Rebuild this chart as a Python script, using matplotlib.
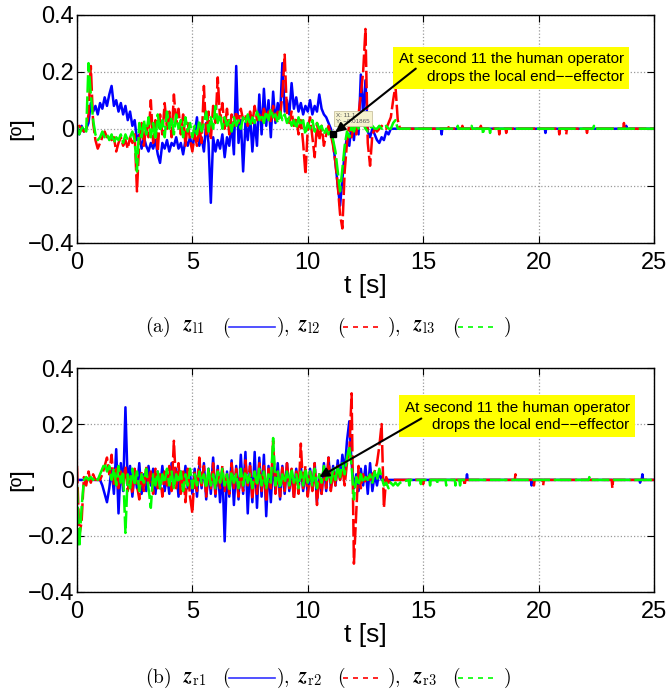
import numpy as np
import matplotlib
matplotlib.use("Agg")
import matplotlib.pyplot as plt
from matplotlib.lines import Line2D

plt.rcParams['font.family'] = ['Liberation Sans', 'DejaVu Sans']
plt.rcParams['mathtext.fontset'] = 'cm'

t_step = 0.1

z_l1 = [0.0, -0.02, 0.01, -0.01, 0.0, 0.02, 0.09, 0.06, 0.08, 0.05,
        0.09, 0.07, 0.11, 0.08, 0.12, 0.15, 0.08, 0.10, 0.06, 0.09,
        0.05, 0.08, 0.03, 0.06, 0.01, 0.03, -0.04, -0.02, -0.07, -0.03,
        -0.06, -0.08, -0.05, -0.07, -0.04, -0.09, -0.12, -0.05, -0.07, -0.04,
        -0.08, -0.05, -0.06, -0.03, -0.07, -0.05, -0.09, -0.04, -0.06, -0.03,
        -0.07, -0.02, 0.04, -0.06, -0.03, -0.08, 0.02, -0.05, -0.26, -0.03,
        -0.08, -0.04, -0.07, -0.02, -0.10, -0.03, -0.06, 0.02, -0.09, 0.22,
        -0.05, 0.03, -0.15, 0.02, -0.04, 0.05, -0.08, 0.03, -0.06, 0.12,
        -0.02, 0.14, 0.01, 0.10, -0.03, 0.13, 0.02, 0.09, 0.04, 0.23,
        0.06, 0.10, 0.05, 0.16, 0.07, 0.11, 0.06, 0.09, 0.05, 0.08,
        0.06, 0.10, 0.05, 0.08, 0.06, 0.12, 0.07, 0.05, 0.04, 0.02,
        0.0, -0.05, -0.12, -0.20, -0.27, -0.18, -0.08, -0.03, -0.06, 0.02,
        -0.04, 0.05, -0.02, 0.19, 0.05, 0.17, -0.01, -0.03, 0.0, -0.02,
        -0.04, -0.05, -0.03, -0.04, -0.01, -0.02, 0.0, 0.0, 0.0, 0.0, 0.0]
z_l2 = [0.0, 0.01, 0.0, -0.01, 0.0, 0.05, 0.22, 0.02, -0.04, -0.07,
        -0.05, -0.03, -0.01, -0.03, -0.02, -0.04, -0.03, -0.08, -0.05, -0.03,
        -0.06, -0.04, -0.07, -0.03, -0.05, -0.02, -0.22, -0.04, 0.02, -0.06,
        0.01, -0.03, 0.10, -0.05, 0.03, -0.08, 0.05, -0.02, 0.09, 0.0,
        0.06, -0.03, 0.12, 0.02, 0.07, -0.02, 0.05, -0.06, 0.02, -0.04,
        -0.08, -0.02, -0.06, 0.01, -0.05, 0.15, -0.02, 0.06, -0.04, 0.08,
        0.02, 0.18, 0.03, 0.09, 0.0, 0.07, -0.02, 0.05, 0.01, 0.06,
        0.02, 0.07, 0.03, 0.05, 0.01, 0.06, 0.02, 0.08, 0.03, 0.05,
        0.02, 0.07, 0.04, 0.06, 0.02, 0.08, 0.03, 0.06, 0.04, 0.12,
        0.26, 0.05, 0.02, 0.06, 0.01, 0.04, -0.02, 0.03, -0.05, -0.16,
        0.0, 0.04, -0.03, -0.10, 0.02, -0.04, 0.01, -0.06, -0.02, 0.01,
        -0.02, -0.06, -0.12, -0.20, -0.30, -0.35, -0.15, -0.05, 0.02, -0.03,
        0.01, -0.02, 0.05, 0.12, 0.20, 0.35, -0.05, -0.13, -0.02, 0.0,
        -0.01, 0.0, 0.01, 0.0, 0.0, 0.02, 0.04, 0.10, 0.15, 0.03, 0.0]
z_l3 = [0.01, -0.02, 0.0, 0.01, -0.01, 0.23, 0.12, 0.03, -0.02, -0.04,
        -0.03, -0.01, -0.03, -0.02, -0.04, -0.02, -0.05, -0.03, -0.04, -0.02,
        -0.05, -0.02, -0.04, -0.03, -0.01, -0.04, -0.15, 0.02, -0.03, 0.03,
        -0.02, 0.04, -0.03, 0.02, -0.04, 0.05, -0.01, 0.03, -0.03, 0.06,
        0.0, 0.04, -0.02, 0.05, 0.0, 0.03, -0.03, 0.04, -0.01, 0.02,
        -0.03, 0.01, -0.02, 0.03, -0.01, 0.02, 0.06, -0.01, 0.04, 0.0,
        0.08, 0.02, 0.05, 0.0, 0.04, 0.01, 0.03, -0.01, 0.04, 0.01,
        0.03, 0.0, 0.04, 0.02, 0.05, 0.01, 0.04, 0.02, 0.06, 0.03,
        0.05, 0.02, 0.06, 0.03, 0.07, 0.04, 0.05, 0.02, 0.06, 0.03,
        0.05, 0.02, 0.04, 0.01, 0.03, 0.0, 0.04, 0.01, 0.03, -0.02,
        0.02, 0.0, 0.03, -0.01, 0.02, 0.0, 0.01, -0.02, 0.0, -0.02,
        -0.01, -0.04, -0.08, -0.15, -0.22, -0.14, -0.06, -0.01, -0.03, 0.01,
        -0.01, 0.02, 0.0, 0.05, 0.02, 0.0, -0.01, 0.0, 0.01, 0.0,
        0.0, 0.01, 0.0, 0.0, 0.01, 0.0, 0.0, 0.02, 0.03, 0.0, 0.0]

z_r1 = [0.0, 0.0, 0.0, 0.0, 0.0, 0.0, 0.0, 0.0, 0.0, 0.0,
        0.0, -0.02, -0.05, -0.08, -0.03, 0.04, -0.05, 0.11, -0.12, 0.06,
        -0.04, 0.26, -0.02, 0.05, -0.06, 0.03, -0.03, 0.06, -0.05, 0.02,
        -0.04, 0.05, -0.02, 0.04, -0.05, 0.03, -0.03, 0.05, -0.04, 0.02,
        -0.05, 0.06, -0.02, 0.04, -0.06, 0.03, -0.04, 0.05, -0.03, 0.02,
        -0.05, 0.04, -0.06, 0.05, -0.03, 0.06, -0.07, 0.04, -0.05, 0.08,
        -0.06, 0.05, -0.08, 0.04, -0.22, 0.03, -0.06, 0.07, -0.09, 0.05,
        -0.07, 0.09, -0.05, 0.10, -0.12, 0.06, -0.08, 0.10, -0.10, 0.08,
        -0.06, 0.09, -0.13, 0.05, -0.08, 0.07, -0.04, 0.06, -0.07, 0.05,
        -0.05, 0.06, -0.04, 0.03, -0.06, 0.04, -0.03, 0.05, -0.04, 0.03,
        -0.05, 0.04, -0.03, 0.06, -0.08, 0.02, -0.05, 0.06, -0.04, 0.08,
        -0.03, 0.05, -0.02, 0.07, 0.0, 0.09, 0.03, 0.14, 0.21, 0.06,
        -0.03, 0.02, -0.04, 0.04, -0.02, 0.05, -0.05, 0.06, -0.04, 0.02,
        -0.02, 0.03, 0.0, 0.0, 0.0, 0.0, 0.0, 0.0, 0.0, 0.0, 0.0]
z_r2 = [0.05, -0.20, -0.15, 0.01, -0.02, 0.03, -0.01, 0.02, 0.0, 0.0,
        0.0, 0.02, 0.05, 0.08, 0.02, 0.09, -0.02, 0.04, -0.03, 0.03,
        -0.02, 0.05, -0.04, 0.02, -0.05, 0.04, -0.02, -0.07, 0.03, -0.04,
        0.05, -0.02, 0.03, -0.05, 0.04, -0.03, 0.02, -0.06, 0.03, -0.02,
        0.05, -0.04, 0.14, -0.03, 0.06, -0.05, 0.03, -0.08, 0.04, -0.06,
        -0.12, 0.03, -0.04, 0.08, -0.02, 0.05, -0.06, 0.03, -0.03, 0.06,
        -0.05, 0.04, -0.03, 0.05, -0.04, 0.02, -0.05, 0.06, -0.03, 0.04,
        -0.06, 0.03, -0.04, 0.07, -0.02, 0.05, -0.07, 0.03, -0.05, 0.06,
        -0.04, 0.05, -0.08, 0.04, -0.03, 0.14, -0.05, 0.03, -0.06, 0.05,
        -0.04, 0.06, -0.03, 0.04, -0.07, 0.03, -0.05, 0.13, -0.03, 0.05,
        -0.06, 0.03, -0.04, 0.06, -0.09, 0.02, -0.05, 0.04, -0.03, 0.08,
        -0.04, 0.03, -0.02, 0.05, 0.0, 0.04, -0.02, 0.06, 0.10, 0.31,
        -0.30, -0.12, 0.05, -0.03, 0.02, -0.01, 0.01, 0.0, 0.02, 0.03,
        0.06, 0.12, 0.20, -0.10, 0.01, -0.01, 0.0, 0.0, 0.0, 0.0, 0.0]
z_r3 = [-0.02, -0.24, -0.10, 0.0, 0.01, 0.0, 0.01, 0.0, 0.01, 0.0,
        0.02, 0.04, 0.06, 0.03, 0.05, 0.0, 0.04, -0.02, 0.05, -0.01,
        0.03, -0.19, 0.02, -0.03, 0.04, -0.02, 0.03, -0.04, 0.02, -0.01,
        0.04, -0.03, -0.10, 0.02, -0.02, 0.03, -0.03, 0.02, -0.01, 0.04,
        -0.02, 0.03, -0.03, 0.02, -0.01, 0.03, -0.04, 0.02, -0.02, 0.04,
        -0.03, 0.02, -0.02, 0.03, -0.01, 0.02, -0.03, 0.04, -0.02, 0.02,
        -0.03, 0.03, -0.01, 0.04, -0.02, 0.02, -0.04, 0.03, -0.01, 0.02,
        -0.03, 0.04, -0.02, 0.03, -0.01, 0.02, -0.03, 0.03, -0.02, 0.04,
        -0.02, 0.03, -0.03, 0.02, -0.01, 0.15, -0.02, 0.03, -0.03, 0.02,
        -0.01, 0.03, -0.02, 0.04, -0.01, 0.02, -0.03, 0.03, -0.02, 0.04,
        -0.01, 0.03, -0.02, 0.04, -0.03, 0.02, -0.01, 0.05, 0.0, 0.03,
        -0.01, 0.04, 0.0, 0.05, 0.01, 0.06, 0.02, 0.08, 0.12, 0.05,
        -0.07, 0.01, -0.02, 0.02, -0.01, 0.01, 0.0, 0.02, -0.01, 0.03,
        0.0, 0.04, 0.01, -0.02, -0.01, -0.03, -0.01, -0.02, -0.01, -0.02, -0.01]

# isolated small spikes after the signals settle (time, value)
tail_l1_t, tail_l1_v = [15.8, 20.3, 23.8], [-0.02, -0.015, 0.01]
tail_l2_t = [16.1, 16.7, 17.5, 18.3, 18.6, 20.9, 21.2, 22.1, 23.7]
tail_l2_v = [0.005, 0.01, 0.01, -0.02, -0.015, -0.02, -0.02, -0.015, 0.02]
tail_l3_t, tail_l3_v = [16.5, 17.1, 17.6, 17.9, 22.4], [0.01, 0.01, -0.02, -0.015, 0.01]
tail_r1_t, tail_r1_v = [16.9, 19.7, 24.4, 24.5], [0.02, -0.02, -0.01, 0.02]
tail_r2_t = [15.0, 16.8, 19.0, 19.8, 20.2, 23.2]
tail_r2_v = [-0.015, -0.02, 0.02, -0.02, -0.02, -0.03]
tail_r3_t = [14.4, 14.9, 15.3, 15.6, 16.0, 16.4, 16.6, 22.2]
tail_r3_v = [-0.02, -0.015, -0.02, -0.015, -0.02, -0.02, -0.02, 0.01]

t_end = 25.0


def build_series(vals, tail_t, tail_v):
    """Sampled part followed by a flat zero line carrying the small spikes."""
    t = list(np.arange(len(vals)) * t_step)
    v = list(vals)
    for ts, vs in zip(tail_t, tail_v):
        t += [ts - 0.03, ts, ts + 0.03]
        v += [0.0, vs, 0.0]
    t.append(t_end)
    v.append(0.0)
    return t, v


def px(x, y):
    """figure pixel (from top-left) -> figure fraction"""
    return x / 667.0, 1 - y / 696.0


def style_axes(ax):
    ax.set_xlim(0, 25)
    ax.set_ylim(-0.4, 0.4)
    ax.set_xticks([0, 5, 10, 15, 20, 25])
    ax.set_yticks([-0.4, -0.2, 0, 0.2, 0.4])
    ax.set_yticklabels(['\u22120.4', '\u22120.2', '0', '0.2', '0.4'])
    ax.tick_params(direction='in', top=True, right=True, length=5, labelsize=17, pad=2)
    ax.tick_params(axis='x', pad=7)
    ax.grid(True, linestyle=':', color='#999999', linewidth=0.9)
    ax.set_xlabel('t [s]', fontsize=19, labelpad=0)
    ax.set_ylabel('[\u00ba]', fontsize=18)
    ax.yaxis.set_label_coords(-0.075, 0.5)
    for sp in ax.spines.values():
        sp.set_linewidth(1.0)


def draw_panel(ax, series):
    colors = ['#0000ff', '#ff0000', '#00ff00']
    styles = ['-', (0, (7, 1.5)), (0, (7, 1.5))]
    for (vals, tt, tv), c, ls in zip(series, colors, styles):
        t, v = build_series(vals, tt, tv)
        ax.plot(t, v, color=c, linestyle=ls, linewidth=1.8)


def note(ax, box_x, box_y, tip, tail):
    ax.text(box_x, box_y, 'At second 11 the human operator\ndrops the local end\u2212\u2212effector',
            transform=ax.transAxes, ha='right', va='center', multialignment='right',
            fontsize=11, linespacing=1.3,
            bbox=dict(facecolor='#ffff00', edgecolor='none', pad=4))
    ax.annotate('', xy=tip, xycoords='data', xytext=tail, textcoords='axes fraction',
                arrowprops=dict(arrowstyle='-|>', color='black', lw=1.5, mutation_scale=14))


fig = plt.figure(figsize=(6.67, 6.96), dpi=100)
ax1 = fig.add_axes([0.1154, 0.6513, 0.865, 0.3276])
ax2 = fig.add_axes([0.1154, 0.150, 0.865, 0.321])

draw_panel(ax1, [(z_l1, tail_l1_t, tail_l1_v), (z_l2, tail_l2_t, tail_l2_v), (z_l3, tail_l3_t, tail_l3_v)])
draw_panel(ax2, [(z_r1, tail_r1_t, tail_r1_v), (z_r2, tail_r2_t, tail_r2_v), (z_r3, tail_r3_t, tail_r3_v)])
style_axes(ax1)
style_axes(ax2)

# data tip in the upper panel
ax1.plot([11.1], [-0.019], marker='s', color='black', markersize=4)
ax1.text(0.449, 0.545, 'X: 11.1\nY: \u22120.01865', transform=ax1.transAxes, fontsize=4.5,
         va='center', ha='left', color='#555555',
         bbox=dict(facecolor='#f6f2cf', edgecolor='#c9c2a0', pad=1.5, linewidth=0.6))

note(ax1, 0.948, 0.766, (11.1, -0.019), (0.591, 0.771))
note(ax2, 0.958, 0.785, (10.4, 0.005), (0.601, 0.781))

# sub-captions with line samples
cap_size = 14


def caption(y, letter, sub):
    fig.text(*px(145, y), r'$\mathrm{(%s)}$' % letter, fontsize=cap_size, va='center')
    xs = [183, 298, 413]
    for i, x0 in enumerate(xs):
        fig.text(*px(x0, y), r'$\mathbfit{z}_{\mathrm{%s%d}}$' % (sub, i + 1), fontsize=cap_size + 1, va='center')
    pieces = [(222, '$($'), (276, '$),$'), (337, '$($'), (387, '$),$'), (452, '$($'), (503, '$)$')]
    for x0, s in pieces:
        fig.text(*px(x0, y), s, fontsize=cap_size, va='center')
    samples = [(229, 275, '#3333ff', '-'), (343, 381, '#ff0000', (0, (3, 3))), (458, 496, '#00ff00', (0, (3, 3)))]
    for x0, x1, c, ls in samples:
        fig.add_artist(Line2D([px(x0, y)[0], px(x1, y)[0]], [px(x0, y)[1], px(x1, y)[1]],
                              transform=fig.transFigure, color=c, linestyle=ls, linewidth=1.2))


caption(327, 'a', 'l')
caption(678, 'b', 'r')

fig.savefig('out.png', dpi=100)
